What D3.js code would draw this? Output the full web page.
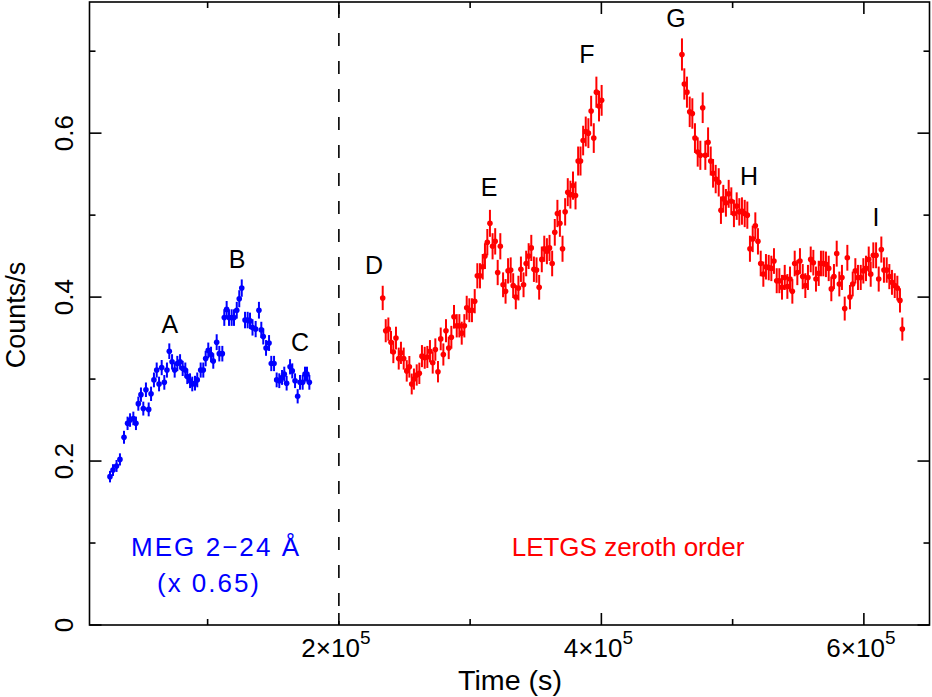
<!DOCTYPE html>
<html>
<head>
<meta charset="utf-8">
<script src="https://cdn.jsdelivr.net/npm/d3@7"></script>
<style>
  html, body { margin: 0; padding: 0; background: #fff; }
  svg { display: block; }
  text { font-family: "Liberation Sans", Arial, Helvetica, sans-serif; }
</style>
</head>
<body>
<svg id="chart" width="932" height="697"></svg>
<script>
// ---------------- DATA ----------------
// MEG 2-24 Å light curve (scaled x 0.65); time in ks
const megTimeKs = [25.6,27.9,30.6,33.2,36.3,39.0,40.9,43.4,45.4,47.2,49.2,51.0,53.0,55.1,56.9,59.1,61.2,63.0,65.0,67.0,69.0,70.8,72.9,74.9,76.9,79.0,81.0,83.0,84.5,86.6,88.3,90.4,92.1,94.7,96.7,98.5,100.5,102.6,104.3,106.9,108.9,111.2,112.7,114.5,116.3,118.3,120.1,122.2,124.1,126.0,128.5,130.5,132.3,134.2,136.6,139.1,140.9,142.4,144.5,146.8,148.5,150.6,152.6,154.6,156.7,158.4,160.2,162.8,164.5,166.6,168.6,170.4,172.4,174.2,175.7,177.5];
const megRate = [0.181,0.189,0.194,0.202,0.229,0.246,0.250,0.252,0.246,0.270,0.281,0.264,0.287,0.263,0.282,0.299,0.311,0.294,0.314,0.296,0.311,0.334,0.321,0.311,0.319,0.321,0.313,0.311,0.303,0.298,0.294,0.295,0.299,0.311,0.311,0.325,0.335,0.330,0.322,0.345,0.331,0.331,0.375,0.385,0.375,0.375,0.375,0.384,0.398,0.411,0.372,0.372,0.371,0.363,0.361,0.384,0.360,0.352,0.338,0.344,0.319,0.319,0.299,0.298,0.302,0.306,0.295,0.315,0.310,0.298,0.279,0.296,0.296,0.306,0.306,0.296];

// LETGS zeroth order light curve; time in ks
const letgsTimeKs = [233.4,235.7,237.7,239.7,241.5,243.5,245.6,247.3,249.4,251.7,253.7,255.5,257.2,259.3,261.3,263.3,265.4,267.4,269.4,271.5,273.5,275.5,277.6,279.6,281.6,283.7,285.7,287.7,289.8,291.8,293.6,295.6,297.4,299.4,301.4,303.5,305.5,307.5,309.6,311.3,313.1,315.1,317.1,319.1,321.0,323.0,325.1,327.0,328.9,330.9,332.8,334.8,336.8,338.7,340.7,342.7,344.6,346.6,348.6,350.6,352.6,354.6,356.5,358.5,360.5,362.5,364.5,366.5,368.4,370.4,372.4,374.4,376.4,378.4,380.3,382.3,384.1,386.1,388.1,390.1,392.2,394.2,396.2,398.2,400.2,
  461.4,463.2,465.2,467.3,469.3,471.3,473.4,475.4,477.2,479.2,481.3,483.3,485.1,487.1,489.4,491.1,492.9,494.9,497.0,499.0,501.0,503.1,505.1,507.1,509.2,511.2,513.2,515.3,517.3,519.3,521.4,523.4,525.4,527.5,529.5,531.5,533.6,535.6,537.6,539.7,541.7,543.7,545.5,547.3,549.3,551.3,553.4,555.4,557.4,559.5,561.5,563.5,565.6,567.3,569.1,571.1,573.2,575.2,577.2,579.3,581.3,583.3,585.4,587.4,589.4,591.5,593.5,595.5,597.6,599.6,601.6,603.7,605.2,607.2,609.3,611.3,613.3,615.3,617.4,619.4,621.4,623.5,625.5,627.5,629.3];
const letgsRate = [0.399,0.359,0.361,0.345,0.333,0.350,0.325,0.332,0.325,0.310,0.315,0.294,0.300,0.305,0.307,0.328,0.326,0.327,0.334,0.320,0.336,0.309,0.349,0.330,0.359,0.338,0.351,0.376,0.365,0.365,0.356,0.365,0.387,0.384,0.384,0.395,0.426,0.426,0.437,0.450,0.467,0.490,0.462,0.468,0.430,0.462,0.415,0.407,0.432,0.433,0.414,0.400,0.411,0.434,0.415,0.441,0.450,0.460,0.434,0.433,0.412,0.446,0.459,0.456,0.460,0.441,0.479,0.502,0.490,0.459,0.504,0.528,0.525,0.536,0.524,0.566,0.566,0.591,0.602,0.600,0.627,0.594,0.650,0.633,0.640,
  0.696,0.660,0.650,0.626,0.624,0.594,0.577,0.573,0.631,0.573,0.589,0.566,0.551,0.544,0.540,0.506,0.520,0.515,0.526,0.517,0.502,0.511,0.504,0.505,0.502,0.500,0.459,0.471,0.487,0.468,0.441,0.428,0.437,0.436,0.435,0.444,0.420,0.420,0.412,0.424,0.413,0.422,0.407,0.441,0.430,0.444,0.425,0.414,0.424,0.446,0.442,0.422,0.429,0.441,0.441,0.440,0.435,0.410,0.425,0.453,0.416,0.424,0.386,0.448,0.400,0.416,0.432,0.424,0.424,0.432,0.435,0.446,0.428,0.451,0.451,0.422,0.458,0.433,0.433,0.425,0.418,0.414,0.411,0.396,0.361];

// Poisson-like error scale (error = scale * sqrt(rate))
const megErrScale = 0.0165;
const letgsErrScale = 0.0235;

// Flare labels: [letter, time ks, rate at text baseline]
const flareLabels = ["A","B","C","D","E","F","G","H","I"];
const flareTimeKs = [71.3,122.4,170.4,226.8,314.4,389.0,456.8,512.5,609.2];
const flareRate   = [0.356,0.436,0.334,0.428,0.523,0.686,0.729,0.537,0.487];

// Axis ticks
const xMajorTicksKs = [200, 400, 600];
const xMajorMantissa = ["2", "4", "6"];
const xMinorTicksKs = [100, 300, 500];
const yMajorTicks = [0, 0.2, 0.4, 0.6];
const yMajorLabels = ["0", "0.2", "0.4", "0.6"];
const yMinorTicks = [0.1, 0.3, 0.5, 0.7];
const dividerKs = 200;

// ---------------- DRAW ----------------
const svg = d3.select("#chart");
const L = 89.5, R = 929.5, T = 2, B = 625;
const x = d3.scaleLinear().domain([10, 650]).range([L, R]);
const y = d3.scaleLinear().domain([0, 0.76]).range([B, T]);

const blue = "#0000ff", red = "#ff0000";

function series(timeArr, rateArr, errScale, color) {
  const data = timeArr.map((t, i) => ({t, v: rateArr[i], e: errScale * Math.sqrt(rateArr[i])}));
  const g = svg.append("g");
  g.selectAll("line").data(data).join("line")
    .attr("x1", d => x(d.t)).attr("x2", d => x(d.t))
    .attr("y1", d => y(d.v - d.e)).attr("y2", d => y(d.v + d.e))
    .attr("stroke", color).attr("stroke-width", 2);
  g.selectAll("circle").data(data).join("circle")
    .attr("cx", d => x(d.t)).attr("cy", d => y(d.v)).attr("r", 2.8)
    .attr("fill", color);
}
series(megTimeKs, megRate, megErrScale, blue);
series(letgsTimeKs, letgsRate, letgsErrScale, red);

// dashed divider
svg.append("line")
  .attr("x1", x(dividerKs)).attr("x2", x(dividerKs))
  .attr("y1", T).attr("y2", B)
  .attr("stroke", "#000").attr("stroke-width", 1.6)
  .attr("stroke-dasharray", "13,15").attr("stroke-dashoffset", -3);

// frame
svg.append("rect").attr("x", L).attr("y", T).attr("width", R - L).attr("height", B - T)
  .attr("fill", "none").attr("stroke", "#000").attr("stroke-width", 1.6);

// ticks (inward, all four sides)
const tg = svg.append("g").attr("stroke", "#000").attr("stroke-width", 1.6);
function xt(vals, len) {
  vals.forEach(v => {
    tg.append("line").attr("x1", x(v)).attr("x2", x(v)).attr("y1", B).attr("y2", B - len);
    tg.append("line").attr("x1", x(v)).attr("x2", x(v)).attr("y1", T).attr("y2", T + len);
  });
}
function yt(vals, len) {
  vals.forEach(v => {
    tg.append("line").attr("y1", y(v)).attr("y2", y(v)).attr("x1", L).attr("x2", L + len);
    tg.append("line").attr("y1", y(v)).attr("y2", y(v)).attr("x1", R).attr("x2", R - len);
  });
}
xt(xMajorTicksKs, 12); xt(xMinorTicksKs, 6);
yt(yMajorTicks, 12); yt(yMinorTicks, 6);

// x tick labels
xMajorTicksKs.forEach((v, i) => {
  const t = svg.append("text").attr("x", x(v) - 3).attr("y", 657)
    .attr("text-anchor", "middle").attr("font-size", 26).attr("fill", "#000");
  t.append("tspan").text(xMajorMantissa[i] + "\u00d710");
  t.append("tspan").attr("dy", -13).attr("font-size", 19).text("5");
});

// y tick labels (rotated)
yMajorTicks.forEach((v, i) => {
  svg.append("text")
    .attr("transform", `translate(73,${y(v)}) rotate(-90)`)
    .attr("text-anchor", "middle").attr("font-size", 26).attr("fill", "#000")
    .text(yMajorLabels[i]);
});

// axis titles
svg.append("text").attr("x", 510).attr("y", 690).attr("text-anchor", "middle")
  .attr("font-size", 27).attr("fill", "#000")
  .attr("textLength", 104).attr("lengthAdjust", "spacingAndGlyphs").text("Time (s)");
svg.append("text").attr("transform", "translate(25,315) rotate(-90)")
  .attr("text-anchor", "middle").attr("font-size", 27).attr("fill", "#000").text("Counts/s");

// flare letters
flareLabels.forEach((s, i) => {
  svg.append("text").attr("x", x(flareTimeKs[i])).attr("y", y(flareRate[i]))
    .attr("text-anchor", "middle").attr("font-size", 25).attr("fill", "#000").text(s);
});

// instrument annotations
svg.append("text").attr("x", 215).attr("y", 556).attr("text-anchor", "middle")
  .attr("font-size", 26).attr("fill", blue)
  .attr("textLength", 168).attr("lengthAdjust", "spacing").text("MEG 2\u221224 \u00c5");
svg.append("text").attr("x", 208).attr("y", 592).attr("text-anchor", "middle")
  .attr("font-size", 26).attr("fill", blue)
  .attr("textLength", 102).attr("lengthAdjust", "spacing").text("(x 0.65)");
svg.append("text").attr("x", 628).attr("y", 556).attr("text-anchor", "middle")
  .attr("font-size", 26).attr("fill", red).text("LETGS zeroth order");
</script>
</body>
</html>
